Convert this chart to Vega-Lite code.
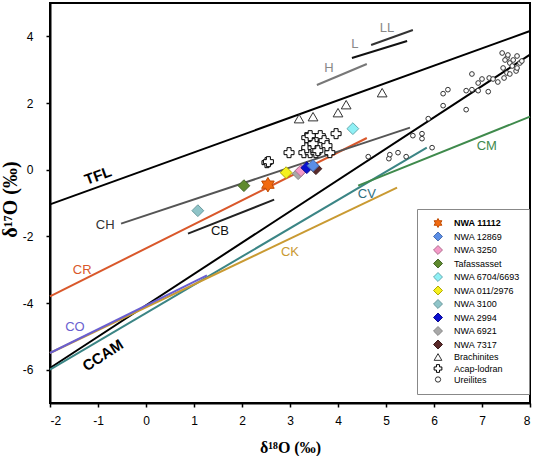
{
  "$schema": "https://vega.github.io/schema/vega-lite/v6.json",
  "width": 480,
  "height": 400,
  "autosize": "none",
  "padding": {"left": 50, "top": 3, "right": 4, "bottom": 53},
  "background": "white",
  "config": {
    "view": {"stroke": "black", "strokeWidth": 2},
    "axis": {
      "grid": false,
      "domainColor": "black",
      "domainWidth": 2,
      "tickColor": "black",
      "tickWidth": 1.5,
      "tickSize": 4,
      "labelFont": "Liberation Sans",
      "labelFontSize": 12,
      "labelColor": "black",
      "titleFont": "Liberation Serif",
      "titleFontSize": 16,
      "titleFontWeight": "bold",
      "titleColor": "black"
    },
    "legend": {
      "title": null,
      "orient": "none",
      "legendX": 367,
      "legendY": 206,
      "padding": 9,
      "strokeColor": "#888888",
      "fillColor": "white",
      "labelFont": "Liberation Sans",
      "labelFontSize": 9,
      "labelColor": "black",
      "symbolSize": 80,
      "symbolStrokeWidth": 1,
      "symbolOpacity": 1,
      "symbolOffset": 7,
      "labelOffset": 11,
      "rowPadding": -0.5
    },
    "text": {"font": "Liberation Sans"}
  },
  "resolve": {"scale": {"color": "independent"}},
  "datasets": {
    "lines": [
      {"line": "TFL", "x1": -2, "y1": -1.04, "x2": 8, "y2": 4.16},
      {"line": "CCAM", "x1": -2, "y1": -5.95, "x2": 8, "y2": 3.45},
      {"line": "CV", "x1": -2, "y1": -6.0, "x2": 5.85, "y2": 0.66},
      {"line": "CK", "x1": -2, "y1": -5.5, "x2": 5.23, "y2": -0.54},
      {"line": "CO", "x1": -2, "y1": -5.5, "x2": 1.27, "y2": -3.17},
      {"line": "CR", "x1": -2, "y1": -3.8, "x2": 4.6, "y2": 0.95},
      {"line": "CH", "x1": -0.52, "y1": -1.62, "x2": 5.5, "y2": 1.26},
      {"line": "CB", "x1": 0.875, "y1": -1.92, "x2": 2.67, "y2": -0.9},
      {"line": "CM", "x1": 4.42, "y1": -0.48, "x2": 8, "y2": 1.59},
      {"line": "H", "x1": 3.56, "y1": 2.54, "x2": 4.6, "y2": 3.17},
      {"line": "L", "x1": 4.29, "y1": 3.35, "x2": 5.44, "y2": 3.86},
      {"line": "LL", "x1": 4.69, "y1": 3.74, "x2": 5.56, "y2": 4.19}
    ],
    "labels": [
      {"line": "TFL", "d18O": -1.0, "d17O": -0.18},
      {"line": "CCAM", "d18O": -0.9, "d17O": -5.57},
      {"line": "CH", "d18O": -0.85, "d17O": -1.65},
      {"line": "CB", "d18O": 1.54, "d17O": -1.83},
      {"line": "CR", "d18O": -1.33, "d17O": -3.0},
      {"line": "CO", "d18O": -1.48, "d17O": -4.73},
      {"line": "CK", "d18O": 3.0, "d17O": -2.48},
      {"line": "CV", "d18O": 4.6, "d17O": -0.72},
      {"line": "CM", "d18O": 7.1, "d17O": 0.72},
      {"line": "H", "d18O": 3.81, "d17O": 3.05},
      {"line": "L", "d18O": 4.35, "d17O": 3.77},
      {"line": "LL", "d18O": 5.02, "d17O": 4.25}
    ],
    "points": [
      {"sample": "Ureilites", "d18O": 4.63, "d17O": 0.39},
      {"sample": "Ureilites", "d18O": 5.06, "d17O": 0.33},
      {"sample": "Ureilites", "d18O": 5.08, "d17O": 0.45},
      {"sample": "Ureilites", "d18O": 5.25, "d17O": 0.51},
      {"sample": "Ureilites", "d18O": 5.42, "d17O": 0.39},
      {"sample": "Ureilites", "d18O": 5.96, "d17O": 0.66},
      {"sample": "Ureilites", "d18O": 5.56, "d17O": 1.02},
      {"sample": "Ureilites", "d18O": 5.75, "d17O": 1.08},
      {"sample": "Ureilites", "d18O": 5.75, "d17O": 0.93},
      {"sample": "Ureilites", "d18O": 5.88, "d17O": 1.53},
      {"sample": "Ureilites", "d18O": 6.19, "d17O": 1.92},
      {"sample": "Ureilites", "d18O": 6.19, "d17O": 2.28},
      {"sample": "Ureilites", "d18O": 6.29, "d17O": 2.4},
      {"sample": "Ureilites", "d18O": 6.67, "d17O": 1.8},
      {"sample": "Ureilites", "d18O": 6.67, "d17O": 2.37},
      {"sample": "Ureilites", "d18O": 6.79, "d17O": 2.4},
      {"sample": "Ureilites", "d18O": 6.79, "d17O": 2.87},
      {"sample": "Ureilites", "d18O": 6.92, "d17O": 2.37},
      {"sample": "Ureilites", "d18O": 6.92, "d17O": 2.6},
      {"sample": "Ureilites", "d18O": 7.0, "d17O": 2.72},
      {"sample": "Ureilites", "d18O": 7.13, "d17O": 2.34},
      {"sample": "Ureilites", "d18O": 7.15, "d17O": 2.75},
      {"sample": "Ureilites", "d18O": 7.33, "d17O": 2.63},
      {"sample": "Ureilites", "d18O": 7.46, "d17O": 2.75},
      {"sample": "Ureilites", "d18O": 7.52, "d17O": 2.9},
      {"sample": "Ureilites", "d18O": 7.58, "d17O": 2.87},
      {"sample": "Ureilites", "d18O": 7.71, "d17O": 2.96},
      {"sample": "Ureilites", "d18O": 7.73, "d17O": 3.41},
      {"sample": "Ureilites", "d18O": 7.79, "d17O": 3.2},
      {"sample": "Ureilites", "d18O": 7.58, "d17O": 3.2},
      {"sample": "Ureilites", "d18O": 7.52, "d17O": 3.35},
      {"sample": "Ureilites", "d18O": 7.54, "d17O": 3.44},
      {"sample": "Ureilites", "d18O": 7.42, "d17O": 3.5},
      {"sample": "Ureilites", "d18O": 7.48, "d17O": 3.29},
      {"sample": "Ureilites", "d18O": 7.63, "d17O": 3.11},
      {"sample": "Ureilites", "d18O": 7.65, "d17O": 3.29},
      {"sample": "Ureilites", "d18O": 7.73, "d17O": 3.05},
      {"sample": "Ureilites", "d18O": 7.83, "d17O": 3.26},
      {"sample": "Ureilites", "d18O": 7.44, "d17O": 3.05},
      {"sample": "Ureilites", "d18O": 7.23, "d17O": 2.72},
      {"sample": "Acap-lodran", "d18O": 2.52, "d17O": 0.21},
      {"sample": "Acap-lodran", "d18O": 2.55, "d17O": 0.24},
      {"sample": "Acap-lodran", "d18O": 2.98, "d17O": 0.51},
      {"sample": "Acap-lodran", "d18O": 3.29, "d17O": 0.51},
      {"sample": "Acap-lodran", "d18O": 3.42, "d17O": 0.51},
      {"sample": "Acap-lodran", "d18O": 3.54, "d17O": 0.51},
      {"sample": "Acap-lodran", "d18O": 3.83, "d17O": 0.51},
      {"sample": "Acap-lodran", "d18O": 3.35, "d17O": 0.66},
      {"sample": "Acap-lodran", "d18O": 3.48, "d17O": 0.66},
      {"sample": "Acap-lodran", "d18O": 3.58, "d17O": 0.57},
      {"sample": "Acap-lodran", "d18O": 3.42, "d17O": 0.87},
      {"sample": "Acap-lodran", "d18O": 3.54, "d17O": 0.93},
      {"sample": "Acap-lodran", "d18O": 3.63, "d17O": 1.02},
      {"sample": "Acap-lodran", "d18O": 3.71, "d17O": 0.87},
      {"sample": "Acap-lodran", "d18O": 3.35, "d17O": 0.96},
      {"sample": "Acap-lodran", "d18O": 3.77, "d17O": 0.72},
      {"sample": "Acap-lodran", "d18O": 3.48, "d17O": 0.78},
      {"sample": "Acap-lodran", "d18O": 3.96, "d17O": 1.08},
      {"sample": "Acap-lodran", "d18O": 3.42, "d17O": 1.02},
      {"sample": "Brachinites", "d18O": 3.19, "d17O": 1.53},
      {"sample": "Brachinites", "d18O": 3.48, "d17O": 1.59},
      {"sample": "Brachinites", "d18O": 4.0, "d17O": 1.71},
      {"sample": "Brachinites", "d18O": 4.17, "d17O": 1.95},
      {"sample": "Brachinites", "d18O": 4.92, "d17O": 2.31},
      {"sample": "NWA 7317", "d18O": 3.54, "d17O": 0.03},
      {"sample": "NWA 3100", "d18O": 1.08, "d17O": -1.23},
      {"sample": "Tafassasset", "d18O": 2.04, "d17O": -0.48},
      {"sample": "NWA 011/2976", "d18O": 2.92, "d17O": -0.09},
      {"sample": "NWA 6921", "d18O": 3.17, "d17O": -0.12},
      {"sample": "NWA 3250", "d18O": 3.23, "d17O": -0.03},
      {"sample": "NWA 2994", "d18O": 3.35, "d17O": 0.06},
      {"sample": "NWA 12869", "d18O": 3.48, "d17O": 0.12},
      {"sample": "NWA 6704/6693", "d18O": 4.31, "d17O": 1.23},
      {"sample": "NWA 11112", "d18O": 2.54, "d17O": -0.45}
    ]
  },
  "layer": [
    {
      "data": {"name": "lines"},
      "mark": {"type": "rule"},
      "encoding": {
        "x": {
          "field": "x1", "type": "quantitative",
          "scale": {"domain": [-2, 8], "nice": false},
          "axis": {
            "values": [-2, -1, 0, 1, 2, 3, 4, 5, 6, 7, 8],
            "labelExpr": "toString(datum.value)",
            "labelPadding": 8,
            "title": "δ¹⁸O (‰)",
            "titleX": 240,
            "titleY": 44,
            "titleBaseline": "middle"
          }
        },
        "y": {
          "field": "y1", "type": "quantitative",
          "scale": {"domain": [-7, 5], "nice": false},
          "axis": {
            "values": [-6, -4, -2, 0, 2, 4],
            "labelExpr": "toString(datum.value)",
            "labelPadding": 13,
            "title": "δ¹⁷O (‰)",
            "titleFontSize": 20,
            "titleX": -40,
            "titleY": 196,
            "titleAngle": -90,
            "titleBaseline": "middle",
            "titleAlign": "center"
          }
        },
        "x2": {"field": "x2"},
        "y2": {"field": "y2"},
        "color": {
          "field": "line", "type": "nominal", "legend": null,
          "scale": {
            "domain": ["TFL", "CCAM", "CV", "CK", "CO", "CR", "CH", "CB", "CM", "H", "L", "LL"],
            "range": ["#000000", "#000000", "#3b8585", "#c99a32", "#6a5fd0", "#d9582b", "#555555", "#222222", "#3f8a4c", "#777777", "#111111", "#333333"]
          }
        },
        "strokeWidth": {
          "field": "line", "type": "nominal", "legend": null,
          "scale": {
            "domain": ["TFL", "CCAM", "CV", "CK", "CO", "CR", "CH", "CB", "CM", "H", "L", "LL"],
            "range": [2, 2, 1.4, 1.4, 1.4, 1.5, 1.2, 1.2, 1.4, 1.3, 1.3, 1.3]
          }
        }
      }
    },
    {
      "data": {"name": "labels"},
      "transform": [{"filter": "datum.line !== 'TFL' && datum.line !== 'CCAM'"}],
      "mark": {"type": "text", "fontSize": 13, "align": "center", "baseline": "middle"},
      "encoding": {
        "x": {"field": "d18O", "type": "quantitative"},
        "y": {"field": "d17O", "type": "quantitative"},
        "text": {"field": "line"},
        "color": {
          "field": "line", "type": "nominal", "legend": null,
          "scale": {
            "domain": ["CH", "CB", "CR", "CO", "CK", "CV", "CM", "H", "L", "LL"],
            "range": ["#333333", "#111111", "#d9582b", "#6a5fd0", "#c99a32", "#2f6f80", "#3f8a4c", "#888888", "#888888", "#888888"]
          }
        }
      }
    },
    {
      "data": {"name": "labels"},
      "transform": [{"filter": "datum.line === 'TFL'"}],
      "mark": {"type": "text", "fontSize": 15, "fontWeight": "bold", "angle": 340, "align": "center", "baseline": "middle", "color": "black"},
      "encoding": {
        "x": {"field": "d18O", "type": "quantitative"},
        "y": {"field": "d17O", "type": "quantitative"},
        "text": {"field": "line"}
      }
    },
    {
      "data": {"name": "labels"},
      "transform": [{"filter": "datum.line === 'CCAM'"}],
      "mark": {"type": "text", "fontSize": 15, "fontWeight": "bold", "angle": 327, "align": "center", "baseline": "middle", "color": "black"},
      "encoding": {
        "x": {"field": "d18O", "type": "quantitative"},
        "y": {"field": "d17O", "type": "quantitative"},
        "text": {"field": "line"}
      }
    },
    {
      "data": {"name": "points"},
      "encoding": {
        "x": {"field": "d18O", "type": "quantitative"},
        "y": {"field": "d17O", "type": "quantitative"},
        "fill": {
          "field": "sample", "type": "nominal",
          "scale": {
            "domain": ["NWA 11112", "NWA 12869", "NWA 3250", "Tafassasset", "NWA 6704/6693", "NWA 011/2976", "NWA 3100", "NWA 2994", "NWA 6921", "NWA 7317", "Brachinites", "Acap-lodran", "Ureilites"],
            "range": ["#f26a10", "#5b8ee6", "#f49ac8", "#5f8a2e", "#8ff0f5", "#f5f020", "#8fc4c8", "#0a10d0", "#a8a8a8", "#5a2a2a", "#ffffff", "#ffffff", "#ffffff"]
          },
          "legend": {
            "encode": {
              "labels": {"update": {"fontWeight": {"signal": "datum.label === 'NWA 11112' ? 'bold' : 'normal'"}}},
              "symbols": {"update": {"size": {"signal": "datum.label === 'Ureilites' ? 28 : (datum.label === 'Brachinites' || datum.label === 'Acap-lodran') ? 60 : 80"}}}
            }
          }
        },
        "stroke": {
          "field": "sample", "type": "nominal",
          "scale": {
            "domain": ["NWA 11112", "NWA 12869", "NWA 3250", "Tafassasset", "NWA 6704/6693", "NWA 011/2976", "NWA 3100", "NWA 2994", "NWA 6921", "NWA 7317", "Brachinites", "Acap-lodran", "Ureilites"],
            "range": ["#c04a00", "#4a6fb0", "#b07090", "#44662a", "#66aab0", "#b0a800", "#6a9a9e", "#0a0a90", "#888888", "#3a1a1a", "#333333", "#000000", "#333333"]
          },
          "legend": {
            "encode": {
              "labels": {"update": {"fontWeight": {"signal": "datum.label === 'NWA 11112' ? 'bold' : 'normal'"}}},
              "symbols": {"update": {"size": {"signal": "datum.label === 'Ureilites' ? 28 : (datum.label === 'Brachinites' || datum.label === 'Acap-lodran') ? 60 : 80"}}}
            }
          }
        },
        "shape": {
          "field": "sample", "type": "nominal",
          "scale": {
            "domain": ["NWA 11112", "NWA 12869", "NWA 3250", "Tafassasset", "NWA 6704/6693", "NWA 011/2976", "NWA 3100", "NWA 2994", "NWA 6921", "NWA 7317", "Brachinites", "Acap-lodran", "Ureilites"],
            "range": ["M0,-1L0.289,-0.5L0.866,-0.5L0.577,0L0.866,0.5L0.289,0.5L0,1L-0.289,0.5L-0.866,0.5L-0.577,0L-0.866,-0.5L-0.289,-0.5Z", "diamond", "diamond", "diamond", "diamond", "diamond", "diamond", "diamond", "diamond", "diamond", "triangle-up", "cross", "circle"]
          },
          "legend": {
            "encode": {
              "labels": {"update": {"fontWeight": {"signal": "datum.label === 'NWA 11112' ? 'bold' : 'normal'"}}},
              "symbols": {"update": {"size": {"signal": "datum.label === 'Ureilites' ? 28 : (datum.label === 'Brachinites' || datum.label === 'Acap-lodran') ? 60 : 80"}}}
            }
          }
        }
      },
      "layer": [
        {
          "transform": [{"filter": "datum.sample === 'Ureilites'"}],
          "mark": {"type": "point", "filled": true, "opacity": 1, "size": 22, "strokeWidth": 1}
        },
        {
          "transform": [{"filter": "datum.sample === 'Acap-lodran'"}],
          "mark": {"type": "point", "filled": true, "opacity": 1, "size": 100, "strokeWidth": 1}
        },
        {
          "transform": [{"filter": "datum.sample === 'Brachinites'"}],
          "mark": {"type": "point", "filled": true, "opacity": 1, "size": 95, "strokeWidth": 1}
        },
        {
          "transform": [{"filter": "datum.sample !== 'Ureilites' && datum.sample !== 'Acap-lodran' && datum.sample !== 'Brachinites' && datum.sample !== 'NWA 11112'"}],
          "mark": {"type": "point", "filled": true, "opacity": 1, "size": 140, "strokeWidth": 1}
        },
        {
          "transform": [{"filter": "datum.sample === 'NWA 11112'"}],
          "mark": {"type": "point", "filled": true, "opacity": 1, "size": 210, "strokeWidth": 1}
        }
      ]
    }
  ]
}
